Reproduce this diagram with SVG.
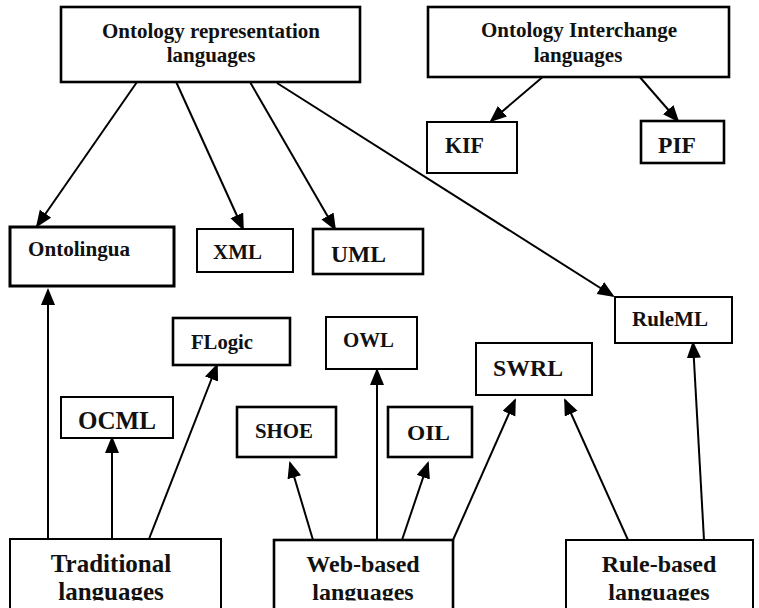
<svg xmlns="http://www.w3.org/2000/svg" width="759" height="608" viewBox="0 0 759 608">
<style>
.box{fill:#fff;stroke:#000;stroke-width:2}
.thick{stroke-width:2.6}
.t{font-family:"Liberation Serif","Times New Roman",serif;font-weight:bold;fill:#111}
.c{text-anchor:middle}
.conn line{stroke:#000;stroke-width:2;marker-end:url(#ah)}
</style>
<defs>
<marker id="ah" markerUnits="userSpaceOnUse" markerWidth="18" markerHeight="15" refX="15" refY="7" orient="auto">
<path d="M0,0 L17,7 L0,14 z" fill="#000"/>
</marker>
<clipPath id="bc"><rect x="0" y="0" width="759" height="600.5"/></clipPath>
</defs>
<rect width="759" height="608" fill="#fff"/>

<g id="connectors" class="conn">
<line x1="137" y1="82" x2="37" y2="226"/>
<line x1="173" y1="75" x2="243" y2="229"/>
<line x1="250" y1="82" x2="335" y2="229"/>
<line x1="277" y1="83" x2="613" y2="296"/>
<line x1="545" y1="75" x2="491" y2="121"/>
<line x1="638" y1="75" x2="678" y2="121"/>
<line x1="48" y1="539" x2="48" y2="290"/>
<line x1="112" y1="539" x2="112" y2="438"/>
<line x1="149" y1="539" x2="217" y2="365"/>
<line x1="313" y1="540" x2="290" y2="463"/>
<line x1="377" y1="540" x2="377" y2="370"/>
<line x1="402" y1="540" x2="428" y2="463"/>
<line x1="453" y1="540" x2="515" y2="400"/>
<line x1="628" y1="540" x2="565" y2="400"/>
<line x1="704" y1="540" x2="693" y2="343"/>
</g>

<g id="rep">
<rect class="box thick" x="61" y="7" width="299" height="75"/>
<text class="t c" x="211" y="38" font-size="21">Ontology representation</text>
<text class="t c" x="211" y="62" font-size="21">languages</text>
</g>

<g id="interchange">
<rect class="box thick" x="428" y="7" width="301" height="70"/>
<text class="t c" x="579" y="37" font-size="21">Ontology Interchange</text>
<text class="t c" x="578" y="62" font-size="21">languages</text>
</g>

<g id="kif">
<rect class="box" x="427" y="122" width="90" height="51"/>
<text class="t" x="445" y="153" font-size="24" textLength="39" lengthAdjust="spacingAndGlyphs">KIF</text>
</g>

<g id="pif">
<rect class="box thick" x="641" y="121" width="83" height="42"/>
<text class="t" x="658" y="153" font-size="24" textLength="38" lengthAdjust="spacingAndGlyphs">PIF</text>
</g>

<g id="ontolingua">
<rect class="box" style="stroke-width:3" x="10" y="227" width="164" height="59"/>
<text class="t" x="28" y="256" font-size="20" textLength="102" lengthAdjust="spacingAndGlyphs">Ontolingua</text>
</g>

<g id="xml">
<rect class="box" x="197" y="229" width="96" height="43"/>
<text class="t" x="213" y="259" font-size="21" textLength="49" lengthAdjust="spacingAndGlyphs">XML</text>
</g>

<g id="uml">
<rect class="box thick" x="313" y="229" width="110" height="45"/>
<text class="t" x="331" y="262" font-size="23" textLength="55" lengthAdjust="spacingAndGlyphs">UML</text>
</g>

<g id="ruleml">
<rect class="box" x="615" y="297" width="117" height="46"/>
<text class="t" x="632" y="326" font-size="20" textLength="76" lengthAdjust="spacingAndGlyphs">RuleML</text>
</g>

<g id="flogic">
<rect class="box thick" x="173" y="318" width="117" height="47"/>
<text class="t" x="191" y="349" font-size="21" textLength="62" lengthAdjust="spacingAndGlyphs">FLogic</text>
</g>

<g id="owl">
<rect class="box" x="326" y="317" width="91" height="52"/>
<text class="t" x="343" y="347" font-size="21" textLength="51" lengthAdjust="spacingAndGlyphs">OWL</text>
</g>

<g id="swrl">
<rect class="box" x="476" y="343" width="116" height="52"/>
<text class="t" x="493" y="376" font-size="23" textLength="70" lengthAdjust="spacingAndGlyphs">SWRL</text>
</g>

<g id="ocml">
<rect class="box" x="61" y="397" width="112" height="41"/>
<text class="t" x="78" y="429" font-size="25" textLength="78" lengthAdjust="spacingAndGlyphs">OCML</text>
</g>

<g id="shoe">
<rect class="box thick" x="237" y="407" width="99" height="50"/>
<text class="t" x="255" y="438" font-size="21" textLength="58" lengthAdjust="spacingAndGlyphs">SHOE</text>
</g>

<g id="oil">
<rect class="box thick" x="388" y="407" width="84" height="50"/>
<text class="t" x="407" y="440" font-size="22" textLength="43" lengthAdjust="spacingAndGlyphs">OIL</text>
</g>

<g id="traditional">
<rect class="box" x="10" y="539" width="211" height="90"/>
<text class="t c" x="111" y="572" font-size="25">Traditional</text>
<text class="t c" x="111" y="600" font-size="25" clip-path="url(#bc)">languages</text>
</g>

<g id="webbased">
<rect class="box thick" x="274" y="540" width="179" height="90"/>
<text class="t c" x="363" y="572" font-size="24">Web-based</text>
<text class="t c" x="363" y="600" font-size="24" clip-path="url(#bc)">languages</text>
</g>

<g id="rulebased">
<rect class="box" x="566" y="540" width="187" height="90"/>
<text class="t c" x="659" y="572" font-size="24">Rule-based</text>
<text class="t c" x="659" y="600" font-size="24" clip-path="url(#bc)">languages</text>
</g>
</svg>
